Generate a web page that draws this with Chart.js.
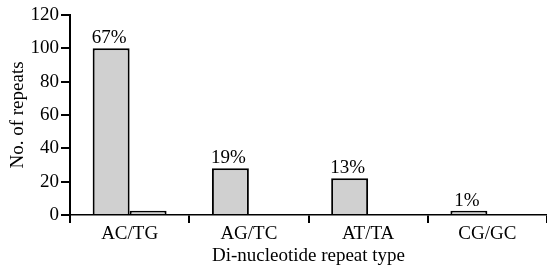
<!DOCTYPE html>
<html>
<head>
<meta charset="utf-8">
<script src="https://cdn.jsdelivr.net/npm/chart.js@4"></script>
<style>
  html, body { margin: 0; padding: 0; background: #fff; }
  #wrap { width: 547px; height: 271px; }
</style>
</head>
<body>
<div id="wrap"><canvas id="repeatChart"></canvas></div>
<script>
// repeat types on the x axis
const categories = ["AC/TG", "AG/TC", "AT/TA", "CG/GC"];
// main bars and the small second bar next to AC/TG
const mainCounts = [100, 28, 22, 2.5];
const secondCounts = [2.5, null, null, null];
const pctLabels = ["67%", "19%", "13%", "1%"];
const yTicks = [0, 20, 40, 60, 80, 100, 120];

const serif = "'Liberation Serif', 'Times New Roman', serif";

// percent text above the main bars
const pctPlugin = {
  id: "pctLabels",
  afterDatasetsDraw(chart) {
    const ctx = chart.ctx;
    const meta = chart.getDatasetMeta(0);
    ctx.save();
    ctx.font = "19px " + serif;
    ctx.fillStyle = "#000";
    ctx.textAlign = "center";
    ctx.textBaseline = "alphabetic";
    meta.data.forEach((bar, i) => {
      if (pctLabels[i]) ctx.fillText(pctLabels[i], bar.x - 2, bar.y - 5);
    });
    ctx.restore();
  }
};

new Chart(document.getElementById("repeatChart"), {
  type: "bar",
  data: {
    labels: categories,
    datasets: [
      {
        data: mainCounts,
        backgroundColor: "#d0d0d0",
        borderColor: "#000",
        borderWidth: 2
      },
      {
        data: secondCounts,
        backgroundColor: "#d0d0d0",
        borderColor: "#000",
        borderWidth: 2
      }
    ]
  },
  options: {
    responsive: true,
    maintainAspectRatio: false,
    animation: false,
    categoryPercentage: 0.62,
    barPercentage: 1.0,
    layout: { padding: { top: 15, right: 0, left: 0, bottom: 0 } },
    plugins: {
      legend: { display: false },
      tooltip: { enabled: false }
    },
    scales: {
      x: {
        afterFit(scale) { scale.height = 56; },
        grid: {
          drawOnChartArea: false,
          drawTicks: true,
          tickLength: 8,
          color: "#000",
          lineWidth: 2
        },
        border: { display: true, color: "#000", width: 1.5 },
        ticks: {
          color: "#000",
          padding: 0,
          font: { family: serif, size: 19 }
        },
        title: {
          display: true,
          text: "Di-nucleotide repeat type",
          color: "#000",
          font: { family: serif, size: 19 },
          padding: { top: 4, bottom: 4 }
        }
      },
      y: {
        min: 0,
        max: 120,
        afterFit(scale) { scale.width = 70; },
        afterBuildTicks(scale) {
          scale.ticks = yTicks.map(v => ({ value: v }));
        },
        grid: {
          drawOnChartArea: false,
          drawTicks: true,
          tickLength: 9,
          color: "#000",
          lineWidth: 2
        },
        border: { display: true, color: "#000", width: 2 },
        ticks: {
          color: "#000",
          padding: 2,
          font: { family: serif, size: 19 }
        },
        title: {
          display: true,
          text: "No. of repeats",
          color: "#000",
          font: { family: serif, size: 19 },
          padding: { top: 7, bottom: 7 }
        }
      }
    }
  },
  plugins: [pctPlugin]
});
</script>
</body>
</html>
